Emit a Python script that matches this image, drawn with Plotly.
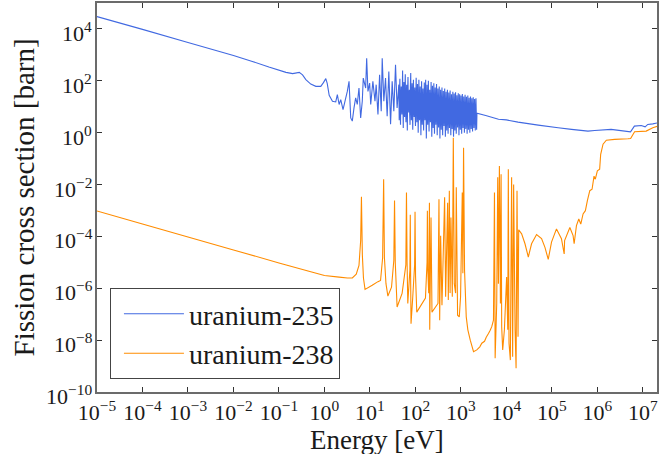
import math
import plotly.graph_objects as go

# ---------------- U-235 fission cross section (eV, barn) ----------------
u235_thermal_e = [1e-5, 1e-4, 1e-3, 1e-2, 2.6e-2, 6e-2, 0.1426, 0.2, 0.279, 0.33, 0.39, 0.5,
                  0.647, 0.83, 0.95, 1.07, 1.15, 1.27, 1.5, 1.77, 1.92, 2.1, 2.28, 2.56,
                  2.83, 3.18, 3.47, 3.78, 4.09, 4.46, 4.85, 5.26, 5.74, 6.25, 6.78, 7.13,
                  8.05, 8.47, 9.04, 9.85, 10.4, 11.6, 12.9, 13.7, 15.0, 16.3, 17.7, 18.6,
                  20.2, 22.0, 23.9, 26.0, 28.4, 30.8, 33.5, 36.5, 39.5, 43.1]
u235_thermal_xs = [3.0e4, 9.6e3, 3.0e3, 9.4e2, 5.6e2, 3.4e2, 211, 190, 211, 170, 111, 75,
                   61, 61, 85, 121, 80, 27.6, 16.3, 15.3, 29.4, 12.2, 18.9, 7.8,
                   16.3, 39, 95, 3.7, 2.8, 9.0, 21.8, 12.2, 52.6, 3.7, 16.3, 127,
                   52.6, 745, 39, 82, 12.2, 95, 16.3, 71, 5.0, 172, 6.7, 745,
                   16.3, 127, 4.3, 230, 2.1, 95, 6.7, 416, 9.0, 71]

u235_res_e = [44, 44.7, 45.5, 46.2, 47, 47.8, 48.7, 49.5, 50.4, 51.3, 52.2, 53.1, 54, 55,
              55.9, 56.8, 57.8, 58.8, 59.8, 60.8, 61.9, 63, 64.1, 65.2, 66.3, 67.4, 68.6,
              69.8, 71, 72.2, 73.5, 74.8, 76.1, 77.4, 78.8, 80.1, 81.5, 83, 84.4, 85.8,
              87.3, 88.8, 90.4, 92, 93.5, 95.1, 96.8, 98.5, 100.2,
              103.7, 107.3,
              111, 115, 119, 123, 127.4, 131.9, 136.5, 141.2, 146.2, 151.3, 156.6, 162,
              167.7, 173.6, 179.7, 186, 192.5, 199.2, 206, 213.4, 220.9, 228.6, 236.6,
              244.9, 253.5, 262.3, 271.5, 281, 290.8, 301, 311.6, 322.5, 333.8, 345.4,
              357.5, 370, 383, 396.4, 410.3, 424.6, 439.5, 454.9, 470.8, 487.3, 504.3,
              522, 540.2, 559.1, 578.7, 599, 620, 641.7, 664.1, 687.4, 711.4, 736.3,
              762.1, 788.8, 816.4, 845, 874.5, 905.1, 936.8, 969.6, 1003.5, 1038.6, 1075,
              1112.6, 1151.5, 1191.8, 1233.5, 1276.7, 1321.4, 1367.7, 1415.5, 1465,
              1516.3, 1569.4, 1624.3, 1681.2, 1740, 1800.9, 1864, 1929.2, 1996.7, 2066.6,
              2138.9, 2213.8, 2250]
u235_res_xs = [3.0, 40, 120, 8, 2.0, 25, 60, 10, 5, 35, 250, 12, 1.5, 30,
               90, 6, 4, 50, 180, 9, 2.5, 28, 70, 7, 1.2, 45, 140,
               15, 6, 20, 45, 5, 2, 60, 200, 10, 3, 25, 80, 6,
               1.3, 35, 110, 9, 4, 22, 55, 5, 1.8,
               130, 2.5,
               75, 1.0, 110, 3, 60, 0.8, 95, 2, 50, 1.2, 85, 3,
               110, 0.6, 70, 2, 100, 1.1, 45, 2.5, 90, 0.7, 65,
               1.5, 80, 0.9, 55, 2, 75, 0.8, 50, 1.6, 60, 0.6,
               45, 1.3, 55, 0.8, 40, 1.8, 50, 0.7, 38, 1.2, 45,
               0.9, 35, 1.5, 42, 0.8, 30, 1.4, 38, 0.7, 32, 1.2,
               36, 0.9, 28, 1.6, 33, 0.8, 30, 1.3, 27, 0.9, 31,
               1.5, 25, 1.0, 29, 1.4, 24, 0.9, 27, 1.3,
               22, 1.0, 25, 1.4, 21, 1.1, 23, 1.5, 20, 1.2,
               21, 1.3, 5.6]

u235_fast_e = [3.5e3, 6.7e3, 1.0e4, 1.8e4, 5.0e4, 1.37e5, 2.7e5, 6.2e5, 8.7e5, 2.0e6,
               5.35e6, 6.5e6, 9.2e6, 1.12e7, 1.28e7, 1.65e7, 2.1e7]
u235_fast_xs = [4.6, 3.3, 3.1, 2.55, 1.95, 1.54, 1.34, 1.15, 1.22, 1.34,
                1.08, 1.79, 1.90, 1.68, 2.08, 2.19, 2.39]

# ---------------- U-238 fission cross section (eV, barn) ----------------
u238_low_e = [1e-5, 1e-4, 1e-3, 1e-2, 0.1, 0.5, 1.0, 2.1, 3.2, 4.1, 5.0, 5.74, 6.25, 6.5,
              6.8, 7.2, 7.8, 11.2, 15, 17.1, 19.0, 20.0, 20.8, 22.5, 24.8, 29.8, 33.5,
              34.7, 36, 39.5, 50.9, 61.5, 63.5, 65.5, 67.9, 75.5, 77, 78.5, 80, 87, 96,
              98, 100.5, 107, 166, 180, 183, 187, 196, 203, 206, 220, 231, 313, 329,
              341, 358, 383, 438, 461, 510, 528, 556, 578, 603, 646, 680, 714, 763,
              790, 844, 920, 982, 1070, 1103, 1142, 1201, 1309, 1419, 1603, 1893]
u238_low_xs = [9.5e-4, 3.0e-4, 9.5e-5, 3.0e-5, 9.5e-6, 4.3e-6, 3.1e-6, 2.7e-6, 2.5e-6,
               2.5e-6, 3.5e-6, 7.6e-6, 6.9e-5, 3.4e-3, 2e-5, 2.5e-6, 9e-7, 1.3e-6,
               1.8e-6, 2.0e-6, 1.5e-5, 1.6e-2, 1.5e-5, 1.5e-6, 5e-7, 1.1e-6, 1.2e-5,
               2.4e-3, 1e-5, 1.9e-7, 6.3e-7, 8e-6, 4.9e-3, 1e-5, 2.6e-7, 5e-6, 6.9e-4,
               2e-6, 4.3e-8, 4.2e-7, 8e-6, 8.9e-4, 3e-6, 1.2e-7, 4.2e-7, 1e-5, 9.7e-4,
               5e-6, 6.5e-7, 2.0e-3, 2.5e-8, 5.4e-4, 1.2e-7, 2.6e-7, 2.7e-3, 5.9e-8,
               1.07e-4, 2.2e-7, 3.2e-3, 4.7e-7, 2.0e-3, 3.5e-7, 5.7e-3, 6.5e-7, 5.4e-4,
               4.7e-7, 0.64, 1.5e-6, 6.5e-7, 7.8e-3, 9.1e-8, 7.9e-8, 4.7e-7, 4.9e-3,
               3.8e-6, 0.26, 4.9e-6, 7.9e-8, 2.5e-8, 1.0e-8, 3.6e-9]

u238_res_e = [2234, 2600, 2876, 3300, 3600, 4030, 4400, 4760, 5190, 5460, 5650, 6120,
              6440, 6670, 7010, 7380, 7640, 7870, 8280, 9020, 1.01e4, 1.07e4, 1.10e4,
              1.14e4, 1.22e4, 1.30e4, 1.37e4, 1.44e4, 1.55e4, 1.63e4, 1.71e4, 1.80e4,
              1.86e4]
u238_res_xs = [4.2e-9, 5.5e-9, 7.6e-9, 9e-9, 1.3e-8, 1.8e-8, 2.4e-8, 3.3e-8, 5.9e-8,
               4.9e-3, 2.0e-9, 2.6e-7, 1.9e-2, 1.5e-6, 5.2e-2, 2.6e-7, 2.5e-2, 3.3e-8,
               4.2e-9, 2.5e-8, 2.7e-6, 2.5e-8, 3.9e-2, 7.6e-9, 1.7e-9, 1.9e-2, 2.3e-9,
               1.0e-2, 2.5e-8, 8.3e-10, 5.7e-3, 1.35e-8, 1.8e-4]

u238_fast_e = [2.16e4, 2.56e4, 3.03e4, 3.57e4, 4.60e4, 5.92e4, 7.03e4, 8.30e4, 9.80e4,
               1.26e5, 1.62e5, 1.86e5, 1.9e5, 2.48e5, 2.92e5, 3.08e5, 3.46e5, 3.90e5,
               4.31e5, 4.84e5, 5.44e5, 6.02e5, 6.80e5, 7.63e5, 8.43e5, 9.0e5, 9.97e5,
               1.12e6, 1.18e6, 1.33e6, 1.57e6, 2.4e6, 4.69e6, 5.37e6, 6.57e6, 1.18e7,
               1.65e7, 2.1e7]
u238_fast_xs = [1.26e-4, 5.2e-5, 1.6e-5, 5.2e-5, 1.18e-4, 8.3e-5, 3.8e-5, 1.3e-5, 6.0e-5,
                1.95e-4, 8.1e-5, 2.1e-5, 6.9e-5, 2.2e-4, 1.07e-4, 5.2e-5, 2.6e-4, 4.7e-4,
                3.0e-4, 7.4e-4, 9.8e-4, 2.4e-3, 5.8e-3, 6.6e-3, 2.1e-2, 1.6e-2, 3.4e-2,
                3.9e-2, 0.147, 0.36, 0.51, 0.55, 0.58, 0.60, 1.08, 1.15,
                1.54, 1.79]

x_tick_vals = [1e-5, 1e-4, 1e-3, 1e-2, 1e-1, 1e0, 1e1, 1e2, 1e3, 1e4, 1e5, 1e6, 1e7]
x_tick_text = ["10<sup>−5</sup>", "10<sup>−4</sup>", "10<sup>−3</sup>", "10<sup>−2</sup>",
               "10<sup>−1</sup>", "10<sup>0</sup>", "10<sup>1</sup>", "10<sup>2</sup>",
               "10<sup>3</sup>", "10<sup>4</sup>", "10<sup>5</sup>", "10<sup>6</sup>",
               "10<sup>7</sup>"]
y_tick_vals = [1e-10, 1e-8, 1e-6, 1e-4, 1e-2, 1e0, 1e2, 1e4]
y_tick_text = ["10<sup>−10</sup>", "10<sup>−8</sup>", "10<sup>−6</sup>", "10<sup>−4</sup>",
               "10<sup>−2</sup>", "10<sup>0</sup>", "10<sup>2</sup>", "10<sup>4</sup>"]

u235_e = u235_thermal_e + u235_res_e + u235_fast_e
u235_xs = u235_thermal_xs + u235_res_xs + u235_fast_xs
u238_e = u238_low_e + u238_res_e + u238_fast_e
u238_xs = u238_low_xs + u238_res_xs + u238_fast_xs

FONT = "Liberation Serif, serif"
TEXT = "#1a1a1a"
TICK_SIZE = 22

fig = go.Figure()
fig.add_trace(go.Scatter(x=u235_e, y=u235_xs, mode="lines", name="uranium-235",
                         line=dict(color="#4169E1", width=1.1, simplify=False)))
fig.add_trace(go.Scatter(x=u238_e, y=u238_xs, mode="lines", name="uranium-238",
                         line=dict(color="#FF8C00", width=1.1, simplify=False)))

axis_common = dict(
    type="log", showgrid=False, zeroline=False, showline=True, linecolor="#6b6b6b",
    linewidth=1.6, mirror="ticks", ticks="inside", ticklen=5, tickwidth=1,
    tickcolor="#333333", tickfont=dict(family=FONT, size=TICK_SIZE, color=TEXT),
)

fig.update_layout(
    width=660, height=454,
    margin=dict(l=97, r=1, t=1, b=62),
    paper_bgcolor="white", plot_bgcolor="white",
    font=dict(family=FONT, color=TEXT),
    xaxis=dict(axis_common, range=[-5, 7.31], tickvals=x_tick_vals, ticktext=x_tick_text,
               tickfont=dict(family=FONT, size=22, color=TEXT)),
    yaxis=dict(axis_common, range=[-10, 5], tickvals=y_tick_vals, showticklabels=False),
    legend=dict(x=0.0231, y=0.0332, xanchor="left", yanchor="bottom",
                bordercolor="#444444", borderwidth=1, bgcolor="white",
                itemwidth=60, indentation=8,
                font=dict(family=FONT, size=28, color=TEXT)),
    showlegend=True,
)


def label_width(text, size):
    """Approximate rendered width of a '10<sup>n</sup>' label (serif metrics)."""
    exp = text.split("<sup>")[1].split("</sup>")[0]
    sup = 0.7 * size
    w = 1.0 * size
    for ch in exp:
        w += (0.564 if ch == "−" else 0.5) * sup
    return w


# y tick labels: left edge placed so every label ends just left of the spine
for v, t in zip(y_tick_vals, y_tick_text):
    w = label_width(t, TICK_SIZE)
    fig.add_annotation(x=0, xref="paper", y=math.log10(v), yref="y", text=t,
                       showarrow=False, xanchor="left", align="left", yanchor="middle",
                       xshift=-(w + 6), yshift=-3, borderpad=0,
                       font=dict(family=FONT, size=TICK_SIZE, color=TEXT))

# x axis title, below the tick labels
fig.add_annotation(x=0.5, xref="paper", y=0, yref="paper", text="Energy [eV]",
                   showarrow=False, xanchor="center", yanchor="middle", yshift=-48,
                   borderpad=0, font=dict(family=FONT, size=27, color=TEXT))

# y axis title
fig.add_annotation(x=0, xref="paper", y=0.5, yref="paper", text="Fission cross section [barn]",
                   textangle=-90, showarrow=False, xanchor="center", yanchor="middle",
                   xshift=-74, font=dict(family=FONT, size=29, color=TEXT))

fig.write_html("out.html")
